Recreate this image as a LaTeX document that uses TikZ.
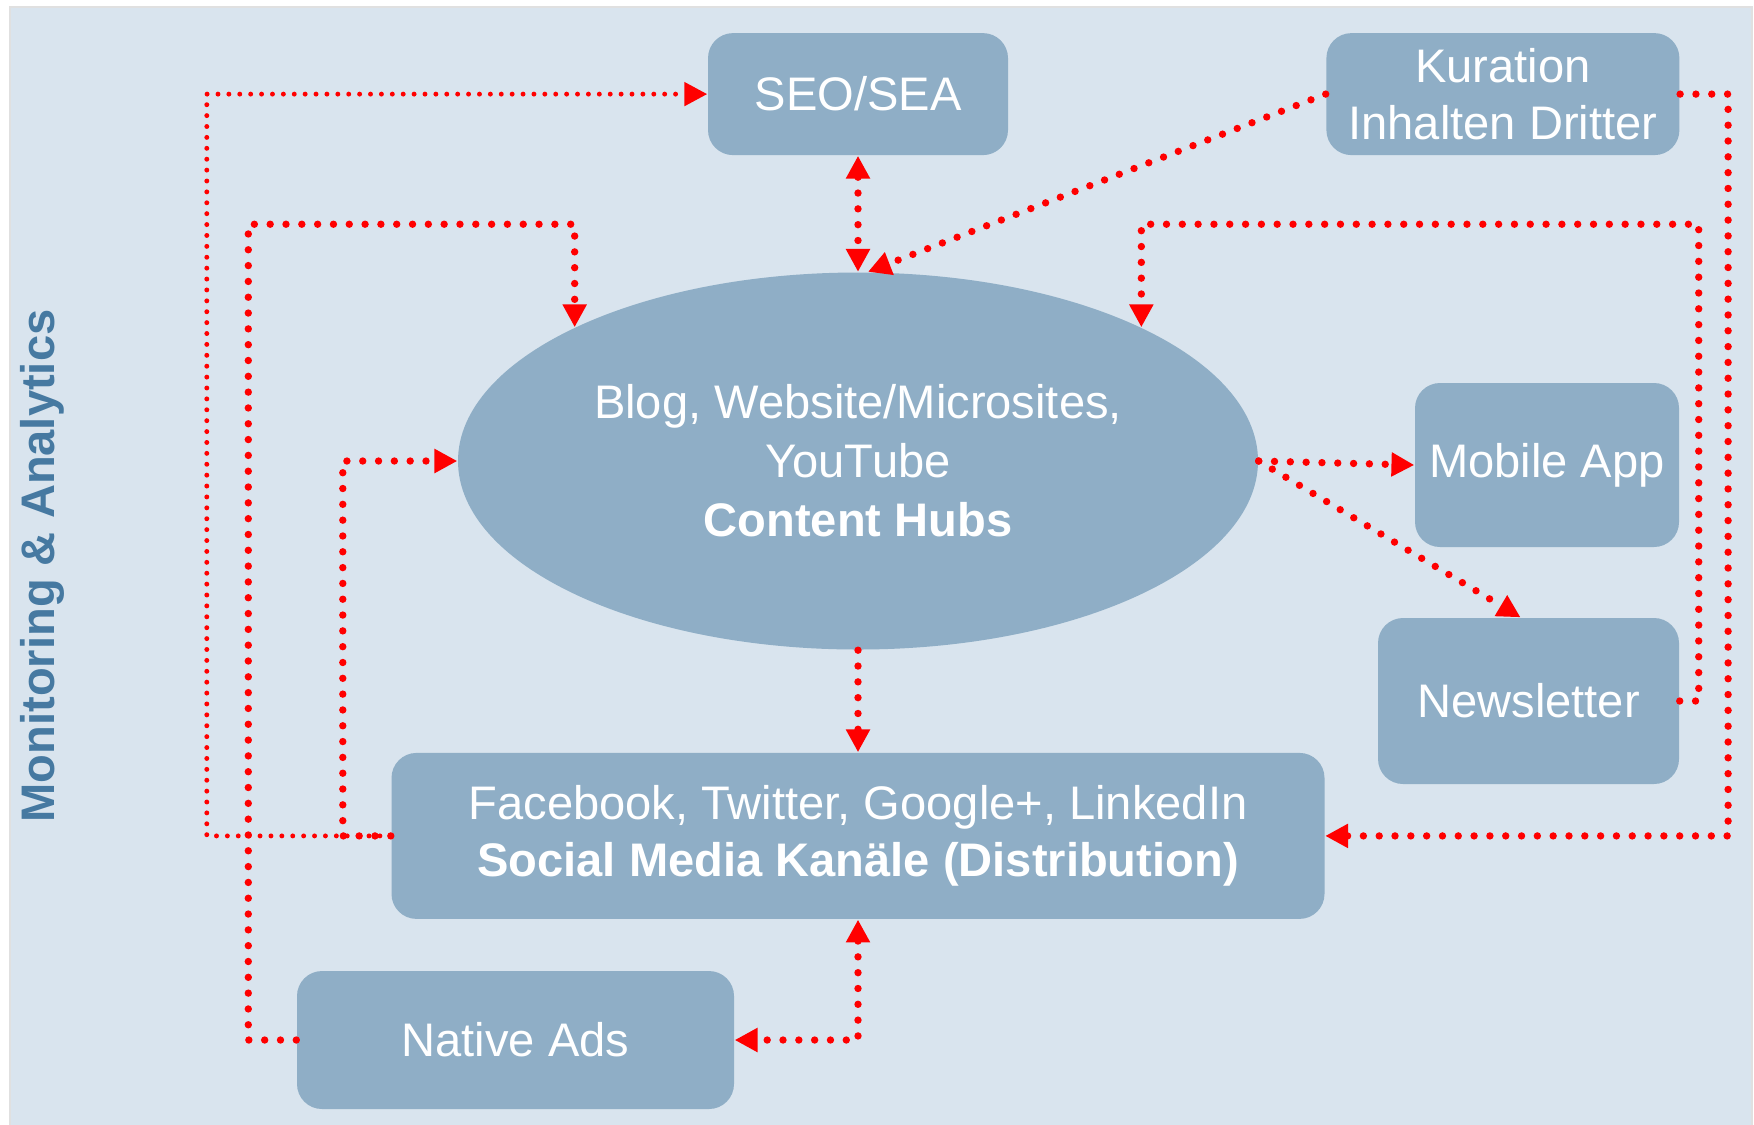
\documentclass[tikz,border=0pt]{standalone}
\usepackage{fontspec}
\setmainfont{Liberation Sans}
\usepackage{tikz}
\usetikzlibrary{arrows.meta,positioning,shapes.geometric}
\usepackage{xcolor}
\definecolor{panelbg}{RGB}{217,228,238}
\definecolor{boxblue}{RGB}{143,174,198}
\definecolor{labelblue}{RGB}{70,121,161}
\newcommand{\boxfont}{\fontsize{13.4}{16.4}\selectfont}

\begin{document}
\begin{tikzpicture}[
    x=0.1mm, y=-0.1mm,
    >={Triangle[length=6.5pt, width=6.5pt]},
    channel/.style={
      rectangle, rounded corners=2.5mm, fill=boxblue, text=white,
      inner sep=0pt, align=center, font=\boxfont
    },
    hubnode/.style={
      ellipse, fill=boxblue, text=white, inner sep=0pt,
      minimum width=80mm, minimum height=37.7mm,
      align=center, font=\fontsize{13.4}{16.8}\selectfont
    },
    flow/.style={
      ->, red, line width=2.1pt, line cap=round,
      dash pattern=on 0pt off 4.5pt
    },
    flow_both/.style={flow, <->},
    flow_thin/.style={flow, line width=1.4pt, dash pattern=on 0pt off 3.1pt}
  ]
  \useasboundingbox (0,0) rectangle (1754,1124);
  \fill[white] (0,0) rectangle (1754,1124);
  \filldraw[fill=panelbg, draw=black!12, line width=0.5pt] (10,7) rectangle (1752,1130);

  % --- Hub and channels ---
  \node[hubnode] (hub) at (858,461)
    {Blog, Website/Microsites,\\YouTube\\\textbf{Content Hubs}};
  \node[channel, minimum width=30mm, minimum height=12.2mm, above=11.6mm of hub] (seo) {SEO/SEA};
  \node[channel, minimum width=35.3mm, minimum height=12.2mm, right=31.7mm of seo] (curation)
    {Kuration\\Inhalten Dritter};
  \node[channel, minimum width=93.3mm, minimum height=16.6mm, below=10.2mm of hub] (social)
    {Facebook, Twitter, Google+, LinkedIn\\\textbf{Social Media Kanäle (Distribution)}};
  \node[channel, minimum width=43.7mm, minimum height=13.8mm] (ads) at (515.5,1040) {Native Ads};
  \node[channel, minimum width=26.4mm, minimum height=16.4mm] (app) at (1547,465) {Mobile App};
  \node[channel, minimum width=30.1mm, minimum height=16.6mm] (newsletter) at (1528.5,701) {Newsletter};

  \node[rotate=90, font=\boxfont\bfseries, text=labelblue] (monitor) at (42,566)
    {Monitoring \& Analytics};

  % --- Links to and from the hub ---
  \draw[flow_both] (seo.south) -- (hub.north);
  \draw[flow] (curation.west) -- ([xshift=1mm]hub.north);
  \draw[flow] (hub.south) -- (social.north);
  \draw[flow] (hub.east) -- (app.west);
  \draw[flow] (hub.east) -- ([xshift=-0.8mm]newsletter.north);

  % --- Loops round the outside ---
  \draw[flow_thin] (social.west) -- ++(-184,0) |- (seo.west);
  \draw[flow] (social.west) -- ++(-48,0) |- (hub.west);
  \draw[flow] (ads.west) -- ++(-48,0) |- ([yshift=10.3mm]hub.north west) -- (hub.north west);
  \draw[flow] (curation.east) -- ++(48,0) |- (social.east);
  \draw[flow] (newsletter.east) -- ++(19,0) |- ([yshift=10.3mm]hub.north east) -- (hub.north east);
  \draw[flow_both] (social.south) |- (ads.east);
\end{tikzpicture}
\end{document}
